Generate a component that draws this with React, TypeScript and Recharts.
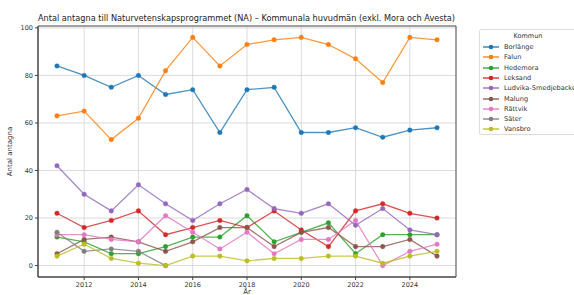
import {
  CartesianGrid,
  Line,
  LineChart,
  ReferenceArea,
  XAxis,
  YAxis,
} from "recharts";

const years = [2011, 2012, 2013, 2014, 2015, 2016, 2017, 2018, 2019, 2020, 2021, 2022, 2023, 2024, 2025];

const borlange = [84, 80, 75, 80, 72, 74, 56, 74, 75, 56, 56, 58, 54, 57, 58];
const falun = [63, 65, 53, 62, 82, 96, 84, 93, 95, 96, 93, 87, 77, 96, 95];
const hedemora = [12, 10, 5, 5, 8, 12, 12, 21, 10, 14, 18, 5, 13, 13, 13];
const leksand = [22, 16, 19, 23, 13, 16, 19, 16, 23, 15, 8, 23, 26, 22, 20];
const ludvika = [42, 30, 23, 34, 26, 19, 26, 32, 24, 22, 26, 17, 24, 15, 13];
const malung = [5, 11, 12, 10, 6, 10, 16, 16, 8, 14, 16, 8, 8, 11, 4];
const rattvik = [13, 13, 11, 10, 21, 14, 7, 14, 5, 11, 11, 19, 0, 6, 9];
const sater = [14, 6, 7, 6, 0, null, null, null, null, null, null, null, null, null, null];
const vansbro = [4, 9, 3, 1, 0, 4, 4, 2, 3, 3, 4, 4, 1, 4, 6];

const xTicks = [2012, 2014, 2016, 2018, 2020, 2022, 2024];
const yTicks = [0, 20, 40, 60, 80, 100];

const series = [
  { key: "Borlänge", values: borlange, color: "#1f77b4" },
  { key: "Falun", values: falun, color: "#ff7f0e" },
  { key: "Hedemora", values: hedemora, color: "#2ca02c" },
  { key: "Leksand", values: leksand, color: "#d62728" },
  { key: "Ludvika-Smedjebacken", values: ludvika, color: "#9467bd" },
  { key: "Malung", values: malung, color: "#8c564b" },
  { key: "Rättvik", values: rattvik, color: "#e377c2" },
  { key: "Säter", values: sater, color: "#7f7f7f" },
  { key: "Vansbro", values: vansbro, color: "#bcbd22" },
];

const data = years.map((year, i) => {
  const row: Record<string, number | null> = { year };
  series.forEach((s) => {
    row[s.key] = s.values[i];
  });
  return row;
});

const X_DOMAIN: [number, number] = [2010.3, 2025.7];
const Y_DOMAIN: [number, number] = [-4.8, 100.8];
const FONT = "'DejaVu Sans', sans-serif";
const tick = { fill: "#333", fontSize: 6.5, fontFamily: FONT };

export default function App() {
  return (
    <div
      style={{
        position: "absolute",
        left: 0,
        top: 0,
        width: 574,
        height: 295,
        background: "#fff",
        overflow: "hidden",
        fontFamily: FONT,
      }}
    >
      <LineChart
        width={574}
        height={295}
        data={data}
        margin={{ top: 26, right: 118, bottom: 0, left: 8 }}
      >
        <CartesianGrid stroke="#d2d2d2" strokeWidth={0.8} />
        <XAxis
          dataKey="year"
          type="number"
          domain={X_DOMAIN}
          ticks={xTicks}
          tick={tick}
          tickSize={3}
          height={18}
          stroke="#444"
          allowDataOverflow
          label={{
            value: "År",
            position: "insideBottom",
            offset: 1,
            fill: "#333",
            fontSize: 7,
            fontFamily: FONT,
          }}
        />
        <YAxis
          type="number"
          domain={Y_DOMAIN}
          ticks={yTicks}
          tick={tick}
          tickSize={3}
          width={30}
          stroke="#444"
          allowDataOverflow
          label={{
            value: "Antal antagna",
            angle: -90,
            position: "insideLeft",
            offset: 2,
            fill: "#333",
            fontSize: 7,
            fontFamily: FONT,
            style: { textAnchor: "middle" },
          }}
        />
        <ReferenceArea
          x1={X_DOMAIN[0]}
          x2={X_DOMAIN[1]}
          y1={Y_DOMAIN[0]}
          y2={Y_DOMAIN[1]}
          fill="none"
          stroke="#555"
          strokeWidth={1}
          ifOverflow="visible"
        />
        {series.map((s) => (
          <Line
            key={s.key}
            dataKey={s.key}
            stroke={s.color}
            strokeWidth={1.3}
            strokeOpacity={0.8}
            dot={{ r: 2.3, fill: s.color, stroke: s.color, strokeWidth: 0.5 }}
            connectNulls={false}
            isAnimationActive={false}
          />
        ))}
      </LineChart>

      <svg
        width={574}
        height={295}
        style={{ position: "absolute", left: 0, top: 0, pointerEvents: "none" }}
      >
        <text
          x={38}
          y={21}
          fontSize={9}
          fontFamily={FONT}
          fill="#222"
          textLength={417}
          lengthAdjust="spacingAndGlyphs"
        >
          Antal antagna till Naturvetenskapsprogrammet (NA) – Kommunala huvudmän (exkl. Mora och Avesta)
        </text>
      </svg>

      <div
        style={{
          position: "absolute",
          left: 479,
          top: 29,
          width: 110,
          height: 106,
          border: "1px solid #ddd",
          borderRadius: 2,
          boxSizing: "border-box",
          background: "#fff",
        }}
      >
        <div
          style={{
            position: "absolute",
            left: 0,
            width: 96,
            top: 2,
            textAlign: "center",
            fontSize: 6.5,
            color: "#333",
          }}
        >
          Kommun
        </div>
        {series.map((s, i) => (
          <div
            key={s.key}
            style={{
              position: "absolute",
              left: 3,
              top: 12 + i * 10.3,
              height: 10,
              display: "flex",
              alignItems: "center",
              whiteSpace: "nowrap",
              fontSize: 6.6,
              color: "#333",
            }}
          >
            <svg width={16} height={8} style={{ marginRight: 5 }}>
              <line x1={0} y1={4} x2={16} y2={4} stroke={s.color} strokeWidth={1.3} />
              <circle cx={8} cy={4} r={2.3} fill={s.color} />
            </svg>
            {s.key}
          </div>
        ))}
      </div>
    </div>
  );
}
